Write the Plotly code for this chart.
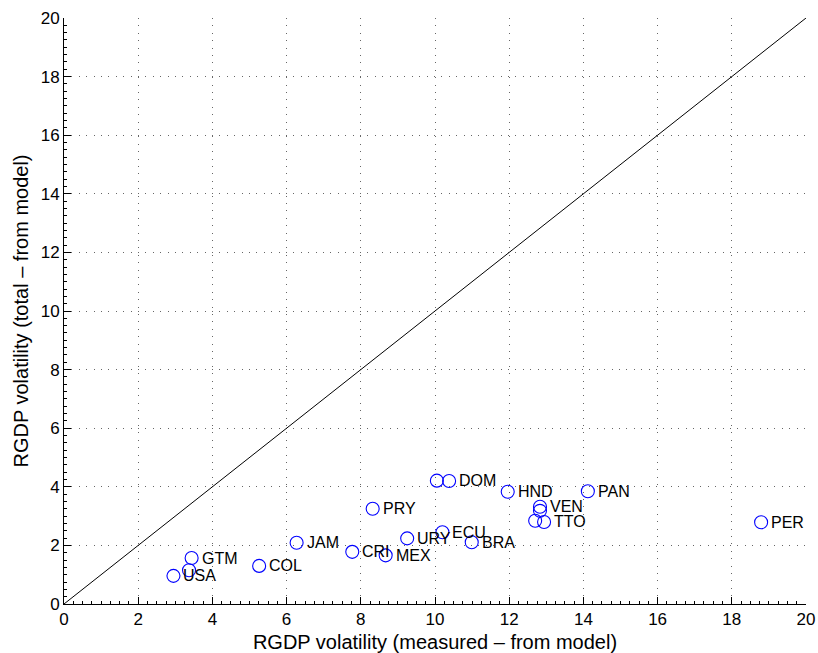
import plotly.graph_objects as go

# RGDP volatility: measured vs. total, both from the model
countries = ["USA", "", "GTM", "COL", "JAM", "CRI", "MEX", "URY", "ECU", "BRA",
             "PRY", "", "DOM", "HND", "PAN", "VEN", "", "", "TTO", "PER"]
measured = [2.95, 3.37, 3.44, 5.26, 6.27, 7.77, 8.67, 9.25, 10.20, 10.99,
            8.32, 10.05, 10.38, 11.96, 14.12, 12.83, 12.83, 12.70, 12.94, 18.79]
total = [0.96, 1.15, 1.57, 1.30, 2.09, 1.78, 1.66, 2.24, 2.45, 2.11,
         3.25, 4.21, 4.20, 3.83, 3.85, 3.32, 3.18, 2.84, 2.80, 2.79]
diag = [0, 20]
tick_vals = list(range(0, 21, 2))

FONT = "Liberation Sans, Arial, Helvetica, sans-serif"

fig = go.Figure()

# 45-degree reference line
fig.add_trace(go.Scatter(x=diag, y=diag, mode="lines",
                         line=dict(color="black", width=1),
                         hoverinfo="skip", showlegend=False))

fig.add_trace(go.Scatter(
    x=measured, y=total, mode="markers",
    marker=dict(symbol="circle-open", size=13, color="#0000ff",
                line=dict(width=1.1, color="#0000ff")),
    showlegend=False))

for name, xv, yv in zip(countries, measured, total):
    if name:
        fig.add_annotation(x=xv, y=yv, text=name, showarrow=False,
                           xanchor="left", yanchor="middle", xshift=8,
                           font=dict(family=FONT, size=16, color="black"))

axis_common = dict(
    tickmode="array", tickvals=tick_vals,
    showgrid=True, gridcolor="#666666", gridwidth=1, griddash="1px,6.4px",
    zeroline=False, showline=True, linecolor="black", linewidth=1,
    ticks="inside", ticklen=7, tickcolor="black", tickwidth=1,
    minor=dict(dtick=0.25, tick0=0, ticks="inside", ticklen=3,
               tickcolor="black", showgrid=False),
    tickfont=dict(family=FONT, size=17, color="black"),
    mirror=False,
)

fig.update_xaxes(range=[0, 20], **axis_common,
                 title=dict(text="RGDP volatility (measured \u2013 from model)",
                            font=dict(family=FONT, size=20, color="black"),
                            standoff=6))
fig.update_yaxes(range=[0, 20], **axis_common,
                 title=dict(text="RGDP volatility (total \u2013 from model)",
                            font=dict(family=FONT, size=20, color="black"),
                            standoff=6))

fig.update_layout(
    width=818, height=653,
    margin=dict(l=64, r=12, t=18, b=49, autoexpand=False),
    plot_bgcolor="white", paper_bgcolor="white",
    font=dict(family=FONT),
)

fig.write_html("out.html")
